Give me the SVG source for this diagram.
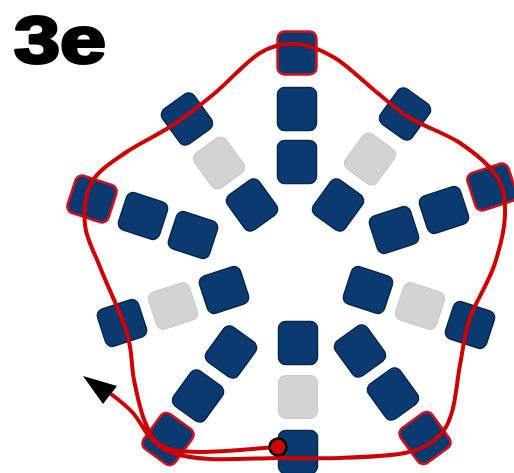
<svg xmlns="http://www.w3.org/2000/svg" width="514" height="473" viewBox="0 0 514 473">
<style>
.bd{fill:#0b3a70;stroke:#07294f;stroke-width:1.5}
.gy{fill:#d3d3d3;stroke:#c8c8c8;stroke-width:1}
.rd{fill:#0b3a70;stroke:#d4101c;stroke-width:2.5}
.thread{fill:none;stroke:#d00000;stroke-width:4;stroke-linecap:round;stroke-linejoin:round}
.lbl{font-family:"Liberation Sans",Arial,sans-serif;font-weight:bold;font-size:67px;fill:#000;stroke:#000;stroke-width:3;stroke-linejoin:round}
</style>
<defs>
<rect id="b" x="-19.5" y="-21.5" width="39" height="43" rx="7" ry="7"/>
</defs>
<rect width="514" height="473" fill="#fff"/>
<text class="lbl" x="14" y="63" textLength="92" lengthAdjust="spacingAndGlyphs">3e</text>

<g id="arm-top">
<use href="#b" class="rd" transform="translate(297,53)"/>
<use href="#b" class="bd" transform="translate(297,109)"/>
<use href="#b" class="bd" transform="translate(297,162)"/>
</g>
<g id="arm-upper-left">
<use href="#b" class="bd" transform="translate(187,119) rotate(-36)"/>
<use href="#b" class="gy" transform="translate(219,163) rotate(-36)"/>
<use href="#b" class="bd" transform="translate(252,205) rotate(-36)"/>
</g>
<g id="arm-upper-right">
<use href="#b" class="bd" transform="translate(405,114) rotate(36)"/>
<use href="#b" class="gy" transform="translate(370,159) rotate(36)"/>
<use href="#b" class="bd" transform="translate(338,205) rotate(36)"/>
</g>
<g id="arm-left">
<use href="#b" class="rd" transform="translate(92,199) rotate(-72)"/>
<use href="#b" class="bd" transform="translate(143,216) rotate(-72)"/>
<use href="#b" class="bd" transform="translate(193,235) rotate(-72)"/>
</g>
<g id="arm-right">
<use href="#b" class="rd" transform="translate(492,187) rotate(72)"/>
<use href="#b" class="bd" transform="translate(444,210) rotate(72)"/>
<use href="#b" class="bd" transform="translate(394,230) rotate(72)"/>
</g>
<g id="arm-lower-left-h">
<use href="#b" class="bd" transform="translate(122,323) rotate(72)"/>
<use href="#b" class="gy" transform="translate(173,306) rotate(72)"/>
<use href="#b" class="bd" transform="translate(224,290) rotate(72)"/>
</g>
<g id="arm-lower-right-h">
<use href="#b" class="bd" transform="translate(470,325) rotate(-72)"/>
<use href="#b" class="gy" transform="translate(420,306) rotate(-72)"/>
<use href="#b" class="bd" transform="translate(368,290) rotate(-72)"/>
</g>
<g id="arm-lower-left">
<use href="#b" class="bd" transform="translate(231,352) rotate(36)"/>
<use href="#b" class="bd" transform="translate(198,396) rotate(36)"/>
<use href="#b" class="rd" transform="translate(168,439) rotate(36)"/>
</g>
<g id="arm-lower-right">
<use href="#b" class="bd" transform="translate(360,351) rotate(-36)"/>
<use href="#b" class="bd" transform="translate(393,394) rotate(-36)"/>
<use href="#b" class="rd" transform="translate(425,438) rotate(-36)"/>
</g>
<g id="arm-bottom">
<use href="#b" class="bd" transform="translate(298,343)"/>
<use href="#b" class="gy" transform="translate(298,397)"/>
<use href="#b" class="bd" transform="translate(298,452)"/>
</g>

<g id="connectors">
<path class="thread" d="M278,447 C265,447.8 219.3,452.2 200,452 C180.7,451.8 171.2,451 162,446 C152.8,441 149.7,433 145,422 C140.3,411 137,394.8 134,380 C131,365.2 132.7,351.8 127,333 C121.3,314.2 107,285 100,267 C93,249 86.3,239.2 85,225 C83.7,210.8 85.3,194 92,182 C98.7,170 111.5,162.5 125,153 C138.5,143.5 158,135 173,125 C188,115 200.5,105 215,93 C229.5,81 246.3,61.2 260,53 C273.7,44.8 284.5,43.2 297,44 C309.5,44.8 322.2,50.3 335,58 C347.8,65.7 361.5,80 374,90 C386.5,100 395.7,109.2 410,118 C424.3,126.8 445.5,133.2 460,143 C474.5,152.8 489.5,165 497,177 C504.5,189 505.5,200.2 505,215 C504.5,229.8 499.8,248.8 494,266 C488.2,283.2 475.7,301.5 470,318 C464.3,334.5 463,349.3 460,365 C457,380.7 455.8,399.8 452,412 C448.2,424.2 444.8,431.2 437,438 C429.2,444.8 421.2,449.7 405,453 C388.8,456.3 360.8,457.2 340,458 C319.2,458.8 301.7,457.8 280,458 C258.3,458.2 228.3,460 210,459 C191.7,458 180,455.7 170,452 C160,448.3 156.2,443.5 150,437 C143.8,430.5 139.2,420 133,413 C126.8,406 116.3,398 111,394"/>
<polygon points="83,376 117,386 103,404" fill="#000"/>
<circle id="start" cx="278" cy="447" r="8.5" fill="#d00000" stroke="#000" stroke-width="2.5"/>
</g>
</svg>
